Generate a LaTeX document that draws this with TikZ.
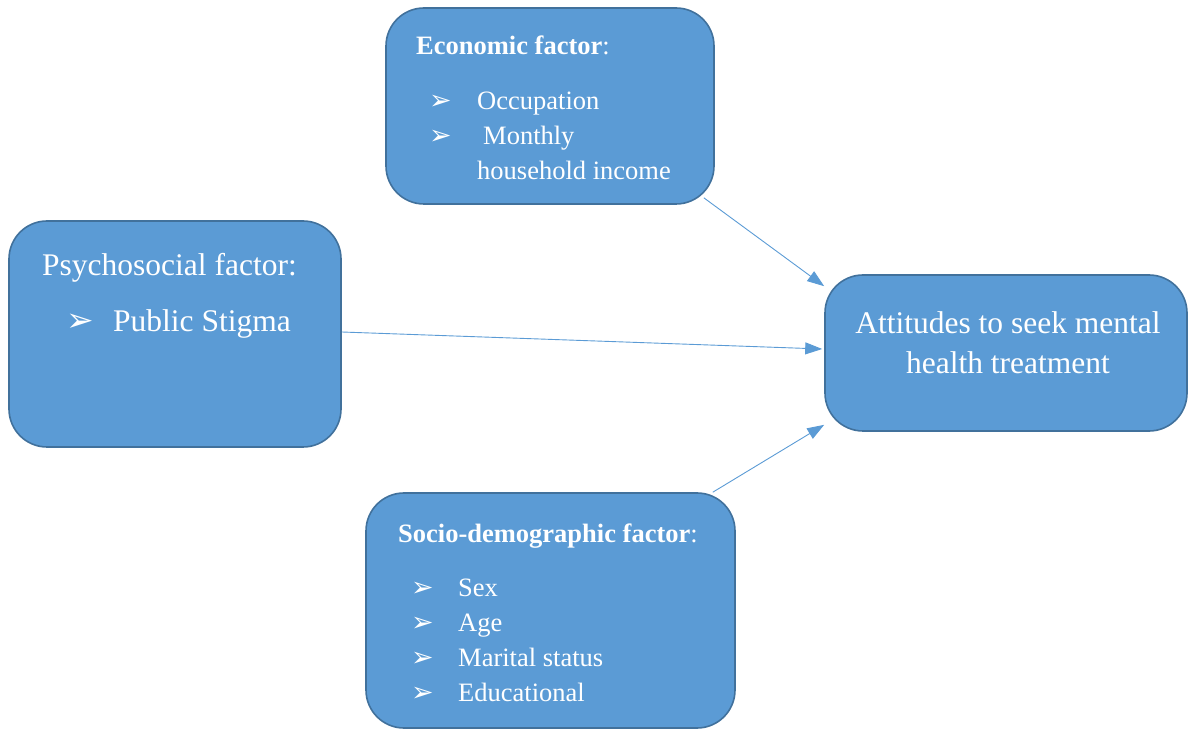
\documentclass[tikz,border=0pt]{standalone}
\usepackage{fontspec}
\setmainfont{Liberation Serif}
\newfontfamily\dingfont{DejaVu Sans}
\usepackage{tikz}
\usetikzlibrary{arrows.meta}
\definecolor{boxfill}{HTML}{5B9BD5}
\definecolor{boxline}{HTML}{41719C}

\begin{document}
\begin{tikzpicture}[x=1pt,y=1pt,
  factor/.style={draw=boxline,line width=1.6pt,fill=boxfill,rounded corners=38pt,inner sep=0pt},
  conn/.style={draw=boxfill,line width=0.9pt,-{Triangle[length=17pt,width=12pt]}},
  txt/.style={anchor=base west,inner sep=0pt,text=white},
  small/.style={font=\fontsize{26.5}{35}\selectfont},
  big/.style={font=\fontsize{31.5}{40}\selectfont},
  bul/.style={anchor=base west,inner sep=0pt,text=white,font=\dingfont\fontsize{27}{28}\selectfont}]
 \useasboundingbox (0,0) rectangle (1189,729);
 % boxes
 \node[factor,minimum width=328pt,minimum height=196pt] (econ) at (550,623) {};
 \node[factor,minimum width=332pt,minimum height=226pt] (psych) at (175,395) {};
 \node[factor,minimum width=362pt,minimum height=156pt] (att) at (1006,376) {};
 \node[factor,minimum width=369pt,minimum height=235pt] (socio) at (550.5,118.5) {};
 % economic factor
 \node[txt,small] (econt) at (416,674) {\bfseries Economic factor\mdseries:};
 \node[bul] (eb1) at (429,619) {➢};
 \node[bul] (eb2) at (429,584) {➢};
 \node[txt,small] (occ) at (477,619) {Occupation};
 \node[txt,small] (inc) at (483,584) {Monthly};
 \node[txt,small] (inc2) at (477,549) {household income};
 % psychosocial factor
 \node[txt,big] (psycht) at (42,453) {Psychosocial factor:};
 \node[bul,font=\dingfont\fontsize{33}{34}\selectfont] (pb1) at (66,397) {➢};
 \node[txt,big] (stig) at (113,397) {Public Stigma};
 % attitudes
 \node[txt,big,anchor=base] (att1) at (1008,395) {Attitudes to seek mental};
 \node[txt,big,anchor=base] (att2) at (1008,355) {health treatment};
 % socio-demographic factor
 \node[txt,small] (sociot) at (398,186) {\bfseries Socio-demographic factor\mdseries:};
 \node[bul] (sb1) at (411,133) {➢};
 \node[bul] (sb2) at (411,98) {➢};
 \node[bul] (sb3) at (411,63) {➢};
 \node[bul] (sb4) at (411,28) {➢};
 \node[txt,small] (sex) at (458,133) {Sex};
 \node[txt,small] (age) at (458,98) {Age};
 \node[txt,small] (mar) at (458,63) {Marital status};
 \node[txt,small] (edu) at (458,28) {Educational};
 % arrows
 \draw[conn] ([shift={(-11pt,7pt)}]econ.south east) -- ([yshift=-12pt]att.north west);
 \draw[conn] ([yshift=2pt]psych.east) -- ([shift={(-2pt,4pt)}]att.west);
 \draw[conn] ([xshift=-23pt]socio.north east) -- ([yshift=7pt]att.south west);
\end{tikzpicture}
\end{document}
